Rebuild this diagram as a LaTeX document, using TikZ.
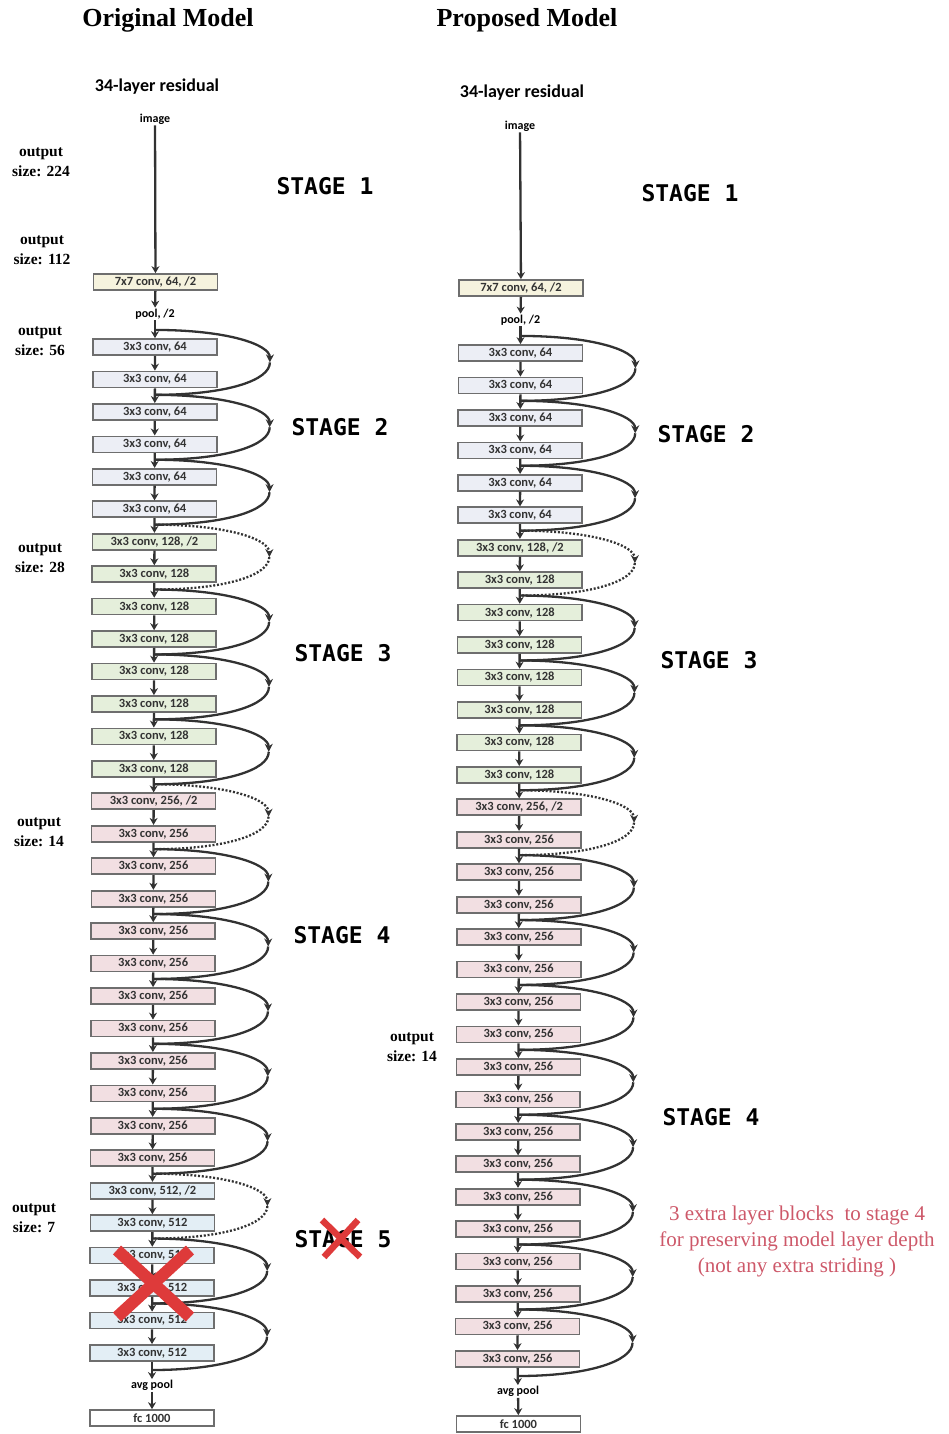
\documentclass[tikz,border=0pt]{standalone}
\usepackage{fontspec}
\setmainfont{Liberation Serif}
\newfontfamily\calfnt{Carlito}
\newfontfamily\stgfnt{DejaVu Sans Mono}
\usetikzlibrary{arrows.meta,calc}
\definecolor{cc7}{RGB}{246,243,222}
\definecolor{c64}{RGB}{236,238,245}
\definecolor{c128}{RGB}{229,239,219}
\definecolor{c256}{RGB}{242,223,226}
\definecolor{c512}{RGB}{227,238,245}
\definecolor{boxgray}{RGB}{110,110,110}
\definecolor{linegray}{RGB}{50,50,50}
\definecolor{redtxt}{RGB}{205,88,105}
\definecolor{redx}{RGB}{222,58,58}
\newcommand\mkbox[6]{%
  \pgfmathsetmacro\yy{#5+32.45*#2}%
  \pgfmathsetmacro\xx{#6-3*#2/31}%
  \node[blk, fill=#3] (#1#2) at (\xx,\yy) {#4};}
\begin{document}
\begin{tikzpicture}[x=1pt,y=-1pt,
  blk/.style={draw=boxgray, line width=1.7pt, minimum width=124pt, minimum height=16pt, inner sep=0pt, font=\calfnt\bfseries\fontsize{12.5}{13}\selectfont, text=black!80},
  flow/.style={draw=linegray, line width=2.3pt, -{Stealth[length=7pt,width=8pt]}},
  skipln/.style={draw=linegray, line width=2.3pt},
  dotln/.style={draw=linegray, line width=2.3pt, dash pattern=on 2pt off 1.8pt},
  tip/.style={-{Stealth[length=8pt,width=8pt]}},
  ttl/.style={font=\fontsize{26}{30}\selectfont\bfseries},
  sub/.style={font=\calfnt\bfseries\fontsize{18}{22}\selectfont},
  small/.style={font=\calfnt\bfseries\fontsize{12}{13}\selectfont, inner sep=1pt},
  outl/.style={font=\fontsize{15.5}{20}\selectfont\bfseries, align=center},
  stage/.style={font=\stgfnt\bfseries\fontsize{23}{26}\selectfont},
  redx/.style={draw=redx, line width=12pt},
]
\useasboundingbox (0,0) rectangle (948,1434);

% titles
\node[ttl] (t1) at (168,20) {Original Model};
\node[ttl] (t2) at (527,20) {Proposed Model};
\node[sub] (s1) at (157,87) {34-layer residual};
\node[sub] (s2) at (522,93) {34-layer residual};

% ===== left column =====
\node[small] (Limg) at (155,119) {image};
\node[blk, fill=cc7] (Lc7) at (155.5,282) {7x7 conv, 64, /2};
\node[small] (Lpool) at (155,314) {pool, /2};
\foreach \i in {0,...,5} {\mkbox{L}{\i}{c64}{3x3 conv, 64}{347}{155}}
\mkbox{L}{6}{c128}{3x3 conv, 128, /2}{347}{155}
\foreach \i in {7,...,13} {\mkbox{L}{\i}{c128}{3x3 conv, 128}{347}{155}}
\mkbox{L}{14}{c256}{3x3 conv, 256, /2}{347}{155}
\foreach \i in {15,...,25} {\mkbox{L}{\i}{c256}{3x3 conv, 256}{347}{155}}
\mkbox{L}{26}{c512}{3x3 conv, 512, /2}{347}{155}
\foreach \i in {27,...,31} {\mkbox{L}{\i}{c512}{3x3 conv, 512}{347}{155}}
\node[small] (Lavg) at (152,1385.5) {avg pool};
\node[blk, fill=white] (Lfc) at (152,1418) {fc 1000};

\draw[flow] (Limg) -- (Lc7);
\draw[flow] (Lc7) -- (Lpool);
\draw[flow] (Lpool) -- (L0);
\foreach \i [evaluate=\i as \j using int(\i+1)] in {0,...,30} \draw[flow] (L\i.south) -- (L\j.north);
\draw[flow] (L31) -- (Lavg);
\draw[flow] (Lavg) -- (Lfc);

\foreach \i in {0,...,31} \coordinate (LJ\i) at ($(L\i.north)+(0,-8.2)$);
\coordinate (LJ32) at ($(L31.south)+(0,8.2)$);
\foreach \k [evaluate=\k as \a using int(2*\k), evaluate=\k as \b using int(2*\k+2)] in {0,...,15} {
  \coordinate (LM\k) at ($(LJ\a)!0.5!(LJ\b)+(115,0)$);
}
\foreach \k [evaluate=\k as \a using int(2*\k), evaluate=\k as \b using int(2*\k+2)] in {0,1,2,4,5,6,8,9,10,11,12,14,15} {
  \draw[skipln,tip] (LJ\a) .. controls +(72,0) and +(0,-18) .. (LM\k);
  \draw[skipln] (LM\k) .. controls +(0,18) and +(72,0) .. (LJ\b);
}
\foreach \k [evaluate=\k as \a using int(2*\k), evaluate=\k as \b using int(2*\k+2)] in {3,7,13} {
  \draw[dotln,tip] (LJ\a) .. controls +(72,0) and +(0,-18) .. (LM\k);
  \draw[dotln] (LM\k) .. controls +(0,18) and +(72,0) .. (LJ\b);
}

% ===== right column =====
\node[small] (Rimg) at (520,126) {image};
\node[blk, fill=cc7] (Rc7) at (521,288) {7x7 conv, 64, /2};
\node[small] (Rpool) at (520.5,320) {pool, /2};
\foreach \i in {0,...,5} {\mkbox{R}{\i}{c64}{3x3 conv, 64}{353}{520.5}}
\mkbox{R}{6}{c128}{3x3 conv, 128, /2}{353}{520.5}
\foreach \i in {7,...,13} {\mkbox{R}{\i}{c128}{3x3 conv, 128}{353}{520.5}}
\mkbox{R}{14}{c256}{3x3 conv, 256, /2}{353}{520.5}
\foreach \i in {15,...,31} {\mkbox{R}{\i}{c256}{3x3 conv, 256}{353}{520.5}}
\node[small] (Ravg) at (518,1391.5) {avg pool};
\node[blk, fill=white] (Rfc) at (518.5,1424) {fc 1000};

\draw[flow] (Rimg) -- (Rc7);
\draw[flow] (Rc7) -- (Rpool);
\draw[flow] (Rpool) -- (R0);
\foreach \i [evaluate=\i as \j using int(\i+1)] in {0,...,30} \draw[flow] (R\i.south) -- (R\j.north);
\draw[flow] (R31) -- (Ravg);
\draw[flow] (Ravg) -- (Rfc);

\foreach \i in {0,...,31} \coordinate (RJ\i) at ($(R\i.north)+(0,-8.2)$);
\coordinate (RJ32) at ($(R31.south)+(0,8.2)$);
\foreach \k [evaluate=\k as \a using int(2*\k), evaluate=\k as \b using int(2*\k+2)] in {0,...,15} {
  \coordinate (RM\k) at ($(RJ\a)!0.5!(RJ\b)+(115,0)$);
}
\foreach \k [evaluate=\k as \a using int(2*\k), evaluate=\k as \b using int(2*\k+2)] in {0,1,2,4,5,6,8,9,10,11,12,13,14,15} {
  \draw[skipln,tip] (RJ\a) .. controls +(72,0) and +(0,-18) .. (RM\k);
  \draw[skipln] (RM\k) .. controls +(0,18) and +(72,0) .. (RJ\b);
}
\foreach \k [evaluate=\k as \a using int(2*\k), evaluate=\k as \b using int(2*\k+2)] in {3,7} {
  \draw[dotln,tip] (RJ\a) .. controls +(72,0) and +(0,-18) .. (RM\k);
  \draw[dotln] (RM\k) .. controls +(0,18) and +(72,0) .. (RJ\b);
}

% ===== output size labels =====
\node[outl] (o1) at (41,162) {output\\size: 224};
\node[outl] (o2) at (42,250) {output\\size: 112};
\node[outl] (o3) at (40,341) {output\\size: 56};
\node[outl] (o4) at (40,558) {output\\size: 28};
\node[outl] (o5) at (39,832) {output\\size: 14};
\node[outl] (o6) at (34,1218) {output\\size: 7};
\node[outl] (o7) at (412,1047) {output\\size: 14};

% ===== stage labels =====
\node[stage] (sl1) at (325,186) {STAGE 1};
\node[stage] (sl2) at (340,427) {STAGE 2};
\node[stage] (sl3) at (343,653) {STAGE 3};
\node[stage] (sl4) at (342,935) {STAGE 4};
\node[stage] (sl5) at (343,1239) {STAGE 5};
\node[stage] (sr1) at (690,193) {STAGE 1};
\node[stage] (sr2) at (706,434) {STAGE 2};
\node[stage] (sr3) at (709,660) {STAGE 3};
\node[stage] (sr4) at (711,1117) {STAGE 4};

% ===== red note =====
\node[font=\fontsize{21}{26}\selectfont, text=redtxt, align=center] (note) at (797,1241)
  {3 extra layer blocks\ \ to stage 4\\for preserving model layer depth\\(not any extra striding )};

% ===== red crosses =====
\coordinate (xa) at (117,1250);
\coordinate (xb) at (190,1317);
\coordinate (xc) at (190,1250);
\coordinate (xd) at (117,1317);
\draw[redx] (xa) -- (xb);
\draw[redx] (xc) -- (xd);
\coordinate (ya) at (322,1220);
\coordinate (yb) at (360,1257);
\coordinate (yc) at (358,1220);
\coordinate (yd) at (324,1257);
\draw[redx, line width=6.5pt] (ya) -- (yb);
\draw[redx, line width=6.5pt] (yc) -- (yd);
\end{tikzpicture}
\end{document}
